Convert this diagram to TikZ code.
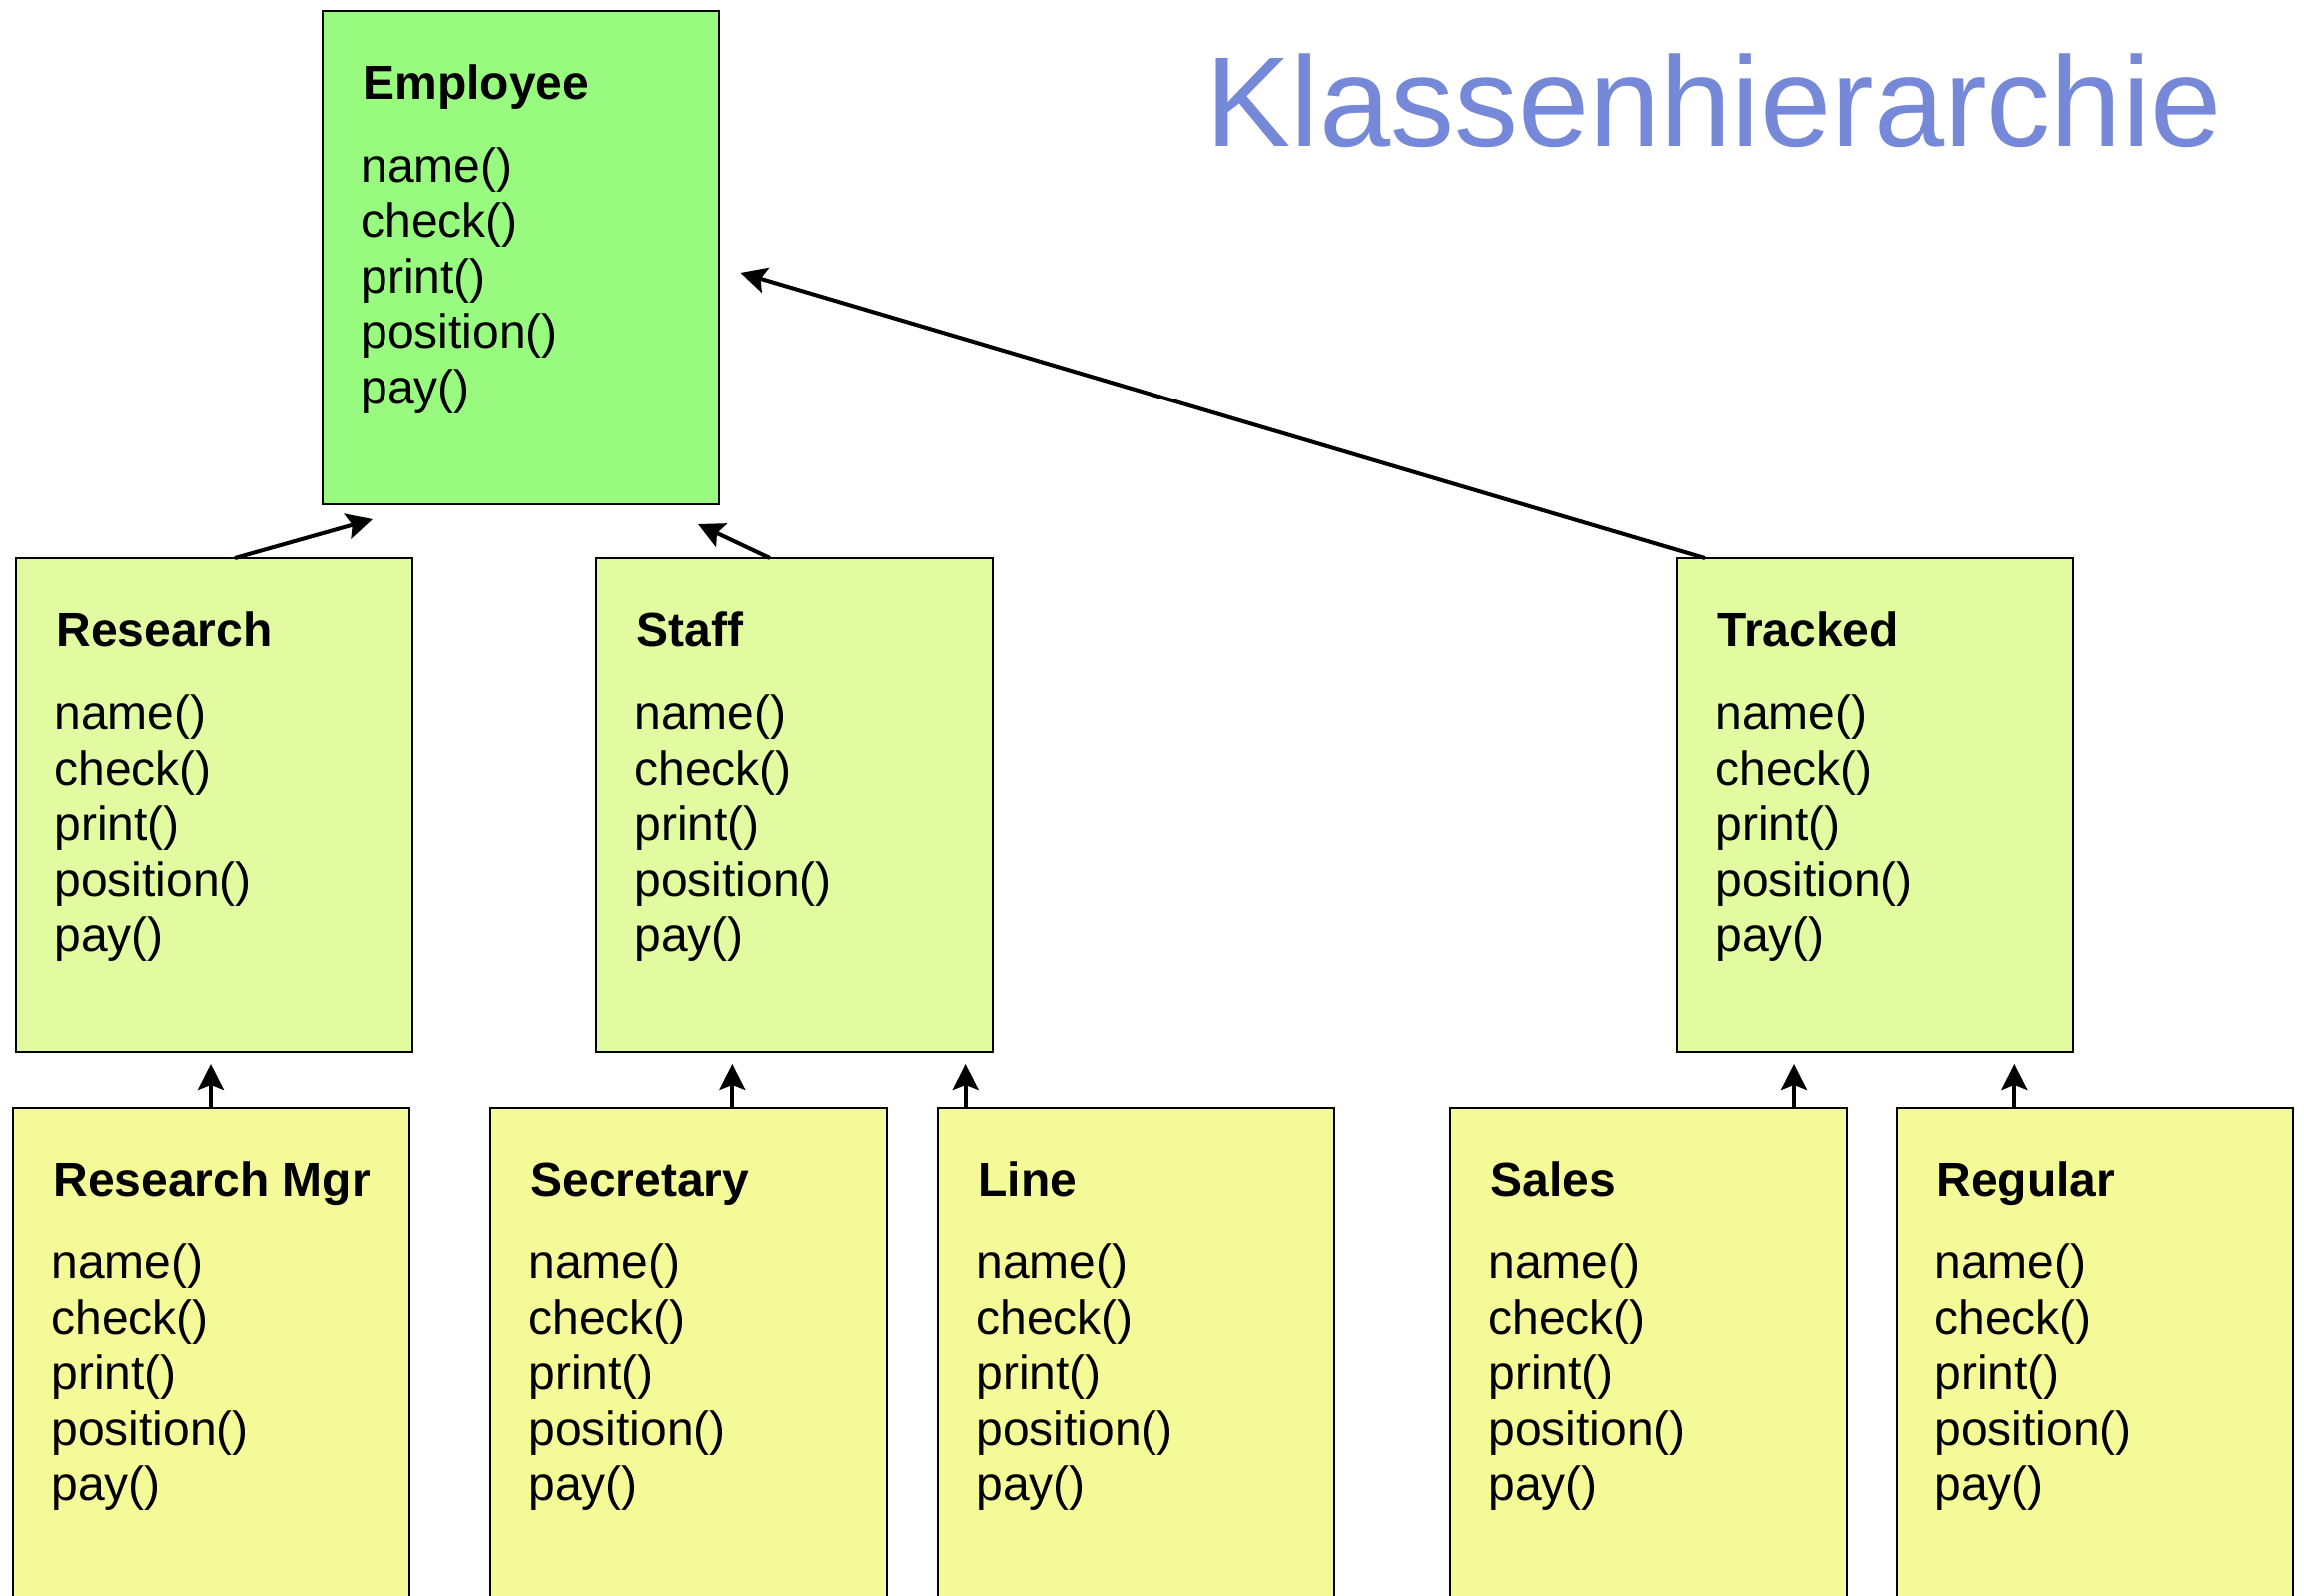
\documentclass[tikz,border=0pt]{standalone}
\usepackage{fontspec}
\setmainfont{Liberation Sans}
\usetikzlibrary{arrows.meta}
\definecolor{empfill}{RGB}{153,250,128}
\definecolor{midfill}{RGB}{226,250,160}
\definecolor{lowfill}{RGB}{245,250,153}
\definecolor{titleblue}{RGB}{118,136,216}
\tikzset{
  clsbox/.style={draw=black, line width=1.3pt, inner sep=0pt, outer sep=0pt,
    minimum width=198.5pt, minimum height=247pt, anchor=north west},
  lowbox/.style={clsbox, minimum height=300pt},
  clstitle/.style={font=\bfseries\fontsize{24}{27.5}\selectfont, anchor=base west, inner sep=0pt},
  clsmeth/.style={font=\fontsize{24}{27.5}\selectfont, anchor=base west, inner sep=0pt},
  inherit/.style={line width=2pt, -{Stealth[length=13pt, width=13pt, inset=2.5pt]}},
}
\newcommand\clstext[2]{%
  \node[clstitle] (#1t) at ([shift={(40,88.5)}]#1.north west) {#2};
  \node[clsmeth] (#1m1) at ([shift={(38,171.5)}]#1.north west) {name()};
  \node[clsmeth] (#1m2) at ([shift={(38,227)}]#1.north west) {check()};
  \node[clsmeth] (#1m3) at ([shift={(38,282.5)}]#1.north west) {print()};
  \node[clsmeth] (#1m4) at ([shift={(38,338)}]#1.north west) {position()};
  \node[clsmeth] (#1m5) at ([shift={(38,393.5)}]#1.north west) {pay()};
}
\begin{document}
\begin{tikzpicture}[x=0.5pt, y=-0.5pt]
\useasboundingbox (0,0) rectangle (2307,1598);
\clip (0,0) rectangle (2307,1598);
\fill[white] (0,0) rectangle (2307,1598);

\node[font=\fontsize{64}{70}\selectfont, text=titleblue, anchor=base west, inner sep=0pt] (title) at (1207,146.7) {Klassenhierarchie};

% top
\node[clsbox, fill=empfill] (emp) at (323,11) {};
\clstext{emp}{Employee}

% middle row
\node[clsbox, fill=midfill] (res) at (16,559) {};
\clstext{res}{Research}
\node[clsbox, fill=midfill] (stf) at (597,559) {};
\clstext{stf}{Staff}
\node[clsbox, fill=midfill] (trk) at (1679,559) {};
\clstext{trk}{Tracked}

% bottom row
\node[lowbox, fill=lowfill] (rmg) at (13,1109) {};
\clstext{rmg}{Research Mgr}
\node[lowbox, fill=lowfill] (sec) at (491,1109) {};
\clstext{sec}{Secretary}
\node[lowbox, fill=lowfill] (lin) at (939,1109) {};
\clstext{lin}{Line}
\node[lowbox, fill=lowfill] (sal) at (1452,1109) {};
\clstext{sal}{Sales}
\node[lowbox, fill=lowfill] (reg) at (1899,1109) {};
\clstext{reg}{Regular}

% inheritance arrows
\draw[inherit] ([shift={(219,0)}]res.north west) -- ([shift={(50,15)}]emp.south west);
\draw[inherit] ([shift={(174,0)}]stf.north west) -- ([shift={(376,20)}]emp.south west);
\draw[inherit] ([shift={(28,0)}]trk.north west) -- ([shift={(21.5,262)}]emp.north east);

\draw[inherit] ([shift={(198,0)}]rmg.north west) -- ([shift={(195,12)}]res.south west);
\draw[inherit] ([shift={(242.3,0)}]sec.north west) -- ([shift={(136.3,12)}]stf.south west);
\draw[inherit] ([shift={(27.7,0)}]lin.north west) -- ([shift={(369.7,12)}]stf.south west);
\draw[inherit] ([shift={(344,0)}]sal.north west) -- ([shift={(117,12)}]trk.south west);
\draw[inherit] ([shift={(118.3,0)}]reg.north west) -- ([shift={(338.3,12)}]trk.south west);
\end{tikzpicture}
\end{document}
